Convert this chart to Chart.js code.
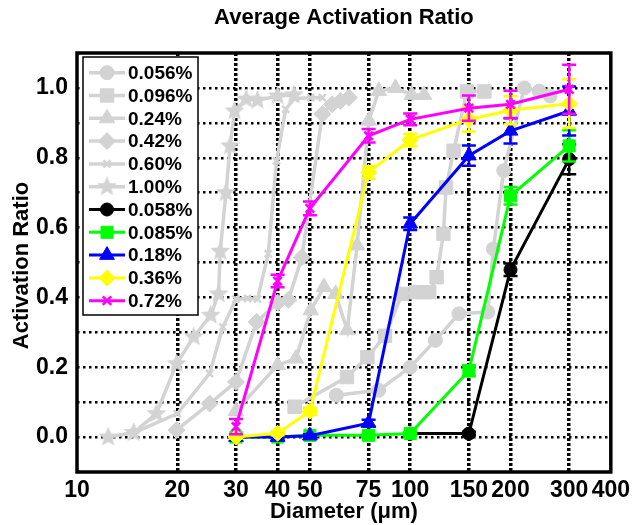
<!DOCTYPE html>
<html><head><meta charset="utf-8">
<script src="https://cdn.jsdelivr.net/npm/chart.js@4.4.1/dist/chart.umd.min.js"></script>
<style>html,body{margin:0;padding:0;background:#fff}</style>
</head><body>
<canvas id="c" width="635" height="525"></canvas>
<script>
// ---------- data ----------
const diameters = [30, 40, 50, 75, 100, 150, 200, 300];
const xTicks = [10, 20, 30, 40, 50, 75, 100, 150, 200, 300, 400];
const yTicks = [-0.1, 0, 0.1, 0.2, 0.3, 0.4, 0.5, 0.6, 0.7, 0.8, 0.9, 1.0, 1.1];
const yLabelTicks = [0, 0.2, 0.4, 0.6, 0.8, 1.0];

// gray (reference) series
const g056X = [60, 80.4, 100, 119, 140, 171, 177.6, 190.8, 220, 244, 263];
const g056Y = [0.12, 0.134, 0.2, 0.277, 0.353, 0.358, 0.539, 0.763, 1.0, 0.991, 0.977];
const g096X = [45, 64.6, 74.4, 84, 94.5, 104, 114, 120, 125.8, 128.1, 135, 148, 167];
const g096Y = [0.087, 0.172, 0.229, 0.29, 0.41, 0.415, 0.415, 0.458, 0.582, 0.715, 0.82, 0.99, 0.99];
const g024X = [30, 40, 45.4, 50.3, 55.1, 59.7, 64.7, 69.3, 75.1, 80.5, 90.3, 101, 110];
const g024Y = [0.075, 0.206, 0.225, 0.363, 0.43, 0.41, 0.306, 0.549, 0.906, 0.991, 1.0, 0.98, 0.98];
const g042X = [19.9, 25, 30, 34.6, 40, 43.1, 47.3, 54.5, 58.3, 61.8, 65.5];
const g042Y = [0.02, 0.096, 0.158, 0.33, 0.385, 0.393, 0.515, 0.925, 0.953, 0.963, 0.972];
const g060X = [14.8, 20, 25, 27.4, 30, 32.5, 34.8, 37.5, 39.7, 42.3, 45, 50.3, 54.5];
const g060Y = [0.012, 0.067, 0.182, 0.315, 0.395, 0.397, 0.395, 0.525, 0.791, 0.939, 0.97, 0.972, 0.972];
const g100X = [12.4, 14.8, 17.3, 19.9, 22.4, 25.2, 26.6, 26.9, 28, 28.8, 29.7, 32.2, 34.8, 40, 44.8];
const g100Y = [0.0, 0.013, 0.067, 0.21, 0.287, 0.349, 0.41, 0.532, 0.70, 0.834, 0.934, 0.968, 0.965, 0.977, 0.98];

// coloured series (values at diameters)
const c058Y = [null, null, null, null, 0.01, 0.01, 0.479, 0.796];
const c085Y = [0.0, 0.0, 0.005, 0.005, 0.01, 0.19, 0.691, 0.834];
const c018Y = [0.0, 0.0, 0.004, 0.04, 0.611, 0.806, 0.877, 0.934];
const c036Y = [0.0, 0.011, 0.074, 0.758, 0.851, 0.91, 0.936, 0.955];
const c072Y = [0.03, 0.447, 0.655, 0.863, 0.91, 0.942, 0.953, 0.996];

const c058E = [0, 0, 0, 0, 0, 0.005, 0.018, 0.043];
const c085E = [0, 0, 0, 0.004, 0.004, 0.016, 0.025, 0.045];
const c018E = [0.004, 0.004, 0.004, 0.01, 0.018, 0.029, 0.036, 0.07];
const c036E = [0.004, 0.006, 0.01, 0.018, 0.018, 0.035, 0.04, 0.07];
const c072E = [0.022, 0.018, 0.02, 0.019, 0.017, 0.036, 0.039, 0.07];

// ---------- styling ----------
const GRAY = '#d3d3d3';
const FONT = '"Liberation Sans", Arial, Helvetica, sans-serif';

function makeStar(r, color) {
  const c = document.createElement('canvas');
  const s = Math.ceil(2 * r + 2);
  c.width = s; c.height = s;
  const x = c.getContext('2d');
  x.fillStyle = color;
  x.beginPath();
  for (let i = 0; i < 10; i++) {
    const rr = i % 2 ? r * 0.45 : r;
    const a = -Math.PI / 2 + i * Math.PI / 5;
    x.lineTo(s / 2 + rr * Math.cos(a), s / 2 + rr * Math.sin(a));
  }
  x.closePath(); x.fill();
  return c;
}
const starImg = makeStar(10.5, GRAY);

function pts(xs, ys) { return xs.map((x, i) => ({ x: x, y: ys[i] })); }

const series = [
  { label: '0.056%', xs: g056X, ys: g056Y, color: GRAY, style: 'circle', r: 7, lw: 3.5 },
  { label: '0.096%', xs: g096X, ys: g096Y, color: GRAY, style: 'rect', r: 9.5, lw: 3.5 },
  { label: '0.24%', xs: g024X, ys: g024Y, color: GRAY, style: 'triangle', r: 9, lw: 3.5 },
  { label: '0.42%', xs: g042X, ys: g042Y, color: GRAY, style: 'rectRot', r: 8.5, lw: 3.5 },
  { label: '0.60%', xs: g060X, ys: g060Y, color: GRAY, style: 'crossRot', r: 5, lw: 3.5, pbw: 2.5 },
  { label: '1.00%', xs: g100X, ys: g100Y, color: GRAY, style: starImg, r: 10, lw: 3.5 },
  { label: '0.058%', xs: diameters, ys: c058Y, err: c058E, color: '#000000', style: 'circle', r: 6.5, lw: 3 },
  { label: '0.085%', xs: diameters, ys: c085Y, err: c085E, color: '#00ff00', style: 'rect', r: 8.5, lw: 3 },
  { label: '0.18%', xs: diameters, ys: c018Y, err: c018E, color: '#0000ff', style: 'triangle', r: 8.5, lw: 3 },
  { label: '0.36%', xs: diameters, ys: c036Y, err: c036E, color: '#ffff00', style: 'rectRot', r: 8, lw: 3 },
  { label: '0.72%', xs: diameters, ys: c072Y, err: c072E, color: '#ff00ff', style: 'crossRot', r: 6, lw: 3, pbw: 2.5 }
];

const datasets = series.map((s, i) => ({
  label: s.label,
  data: pts(s.xs, s.ys),
  err: s.err,
  borderColor: s.color,
  backgroundColor: s.color,
  pointBackgroundColor: s.color,
  pointBorderColor: s.color,
  pointStyle: s.style,
  pointRadius: s.r,
  pointBorderWidth: s.pbw || 1,
  borderWidth: s.lw,
  tension: 0,
  spanGaps: false,
  order: series.length - i
}));

// ---------- plugins ----------
const errPlugin = {
  id: 'errbars',
  afterDatasetDraw(chart, args) {
    const ds = chart.data.datasets[args.index];
    if (!ds.err) return;
    const xs = chart.scales.x, ys = chart.scales.y, ctx = chart.ctx;
    ctx.save();
    ctx.strokeStyle = ds.borderColor;
    ctx.lineWidth = 2.5;
    ds.data.forEach((p, i) => {
      const e = ds.err[i];
      if (p.y == null || !e) return;
      const px = xs.getPixelForValue(p.x);
      const t = ys.getPixelForValue(p.y + e);
      const b = ys.getPixelForValue(p.y - e);
      ctx.beginPath();
      ctx.moveTo(px, t); ctx.lineTo(px, b);
      ctx.moveTo(px - 7, t); ctx.lineTo(px + 7, t);
      ctx.moveTo(px - 7, b); ctx.lineTo(px + 7, b);
      ctx.stroke();
    });
    ctx.restore();
  }
};

const framePlugin = {
  id: 'frame',
  afterDatasetsDraw(chart) {
    const a = chart.chartArea, ctx = chart.ctx;
    ctx.save();
    ctx.strokeStyle = '#000'; ctx.lineWidth = 3.5;
    ctx.strokeRect(a.left, a.top, a.right - a.left, a.bottom - a.top);

    // legend
    const lx = 83, ly = 57, lw = 115, lh = 258;
    ctx.fillStyle = '#fff';
    ctx.fillRect(lx, ly, lw, lh);
    ctx.lineWidth = 1.5; ctx.strokeStyle = '#000';
    ctx.strokeRect(lx, ly, lw, lh);
    ctx.font = 'bold 19px ' + FONT;
    ctx.textBaseline = 'middle'; ctx.textAlign = 'left';
    chart.data.datasets.forEach((ds, i) => {
      const y = 72.7 + i * 22.8;
      ctx.strokeStyle = ds.borderColor; ctx.lineWidth = ds.borderWidth;
      ctx.beginPath(); ctx.moveTo(89, y); ctx.lineTo(125, y); ctx.stroke();
      ctx.fillStyle = ds.backgroundColor; ctx.strokeStyle = ds.borderColor;
      ctx.lineWidth = ds.pointBorderWidth;
      Chart.helpers.drawPoint(ctx, { pointStyle: ds.pointStyle, radius: ds.pointRadius, borderWidth: ds.pointBorderWidth, rotation: 0 }, 107, y);
      ctx.fillStyle = '#000';
      ctx.fillText(ds.label, 128, y + 1);
    });

    // titles
    ctx.fillStyle = '#000';
    ctx.font = 'bold 22px ' + FONT;
    ctx.textAlign = 'center'; ctx.textBaseline = 'middle';
    ctx.fillText('Average Activation Ratio', (a.left + a.right) / 2, 18);
    ctx.fillText('Diameter (\u03bcm)', (a.left + a.right) / 2, 512);
    ctx.save();
    ctx.translate(22, (a.top + a.bottom) / 2 + 3);
    ctx.rotate(-Math.PI / 2);
    ctx.fillText('Activation Ratio', 0, 0);
    ctx.restore();
    ctx.restore();
  }
};

const tickFont = { family: FONT, size: 23, weight: 'bold' };

new Chart(document.getElementById('c'), {
  type: 'line',
  data: { datasets: datasets },
  options: {
    responsive: false,
    animation: false,
    layout: { padding: { top: 53, right: 22, left: 0, bottom: 0 } },
    plugins: { legend: { display: false }, tooltip: { enabled: false }, title: { display: false } },
    scales: {
      x: {
        type: 'logarithmic', min: 10, max: 400,
        afterBuildTicks: s => { s.ticks = xTicks.map(v => ({ value: v })); },
        afterFit: s => { s.height = 53; },
        ticks: { autoSkip: false, maxRotation: 0, minRotation: 0, padding: 5, color: '#000', font: tickFont,
                 callback: v => String(v) },
        grid: { drawTicks: false, lineWidth: 3.5,
                color: c => (c.tick && (c.tick.value === 10 || c.tick.value === 400)) ? 'rgba(0,0,0,0)' : '#000' },
        border: { display: false, dash: [3, 2] }
      },
      y: {
        min: -0.1, max: 1.1,
        afterBuildTicks: s => { s.ticks = yTicks.map(v => ({ value: v })); },
        afterFit: s => { s.width = 77; },
        ticks: { padding: 9, color: '#000', font: tickFont,
                 callback: v => { const k = Math.round(v * 10); return yLabelTicks.some(t => Math.round(t * 10) === k) ? (k / 10).toFixed(1) : ''; } },
        grid: { drawTicks: false, lineWidth: 2.5,
                color: c => (c.tick && (Math.abs(c.tick.value + 0.1) < 1e-6 || Math.abs(c.tick.value - 1.1) < 1e-6)) ? 'rgba(0,0,0,0)' : '#000' },
        border: { display: false, dash: [2.5, 3.5] }
      }
    }
  },
  plugins: [errPlugin, framePlugin]
});
</script>
</body></html>
